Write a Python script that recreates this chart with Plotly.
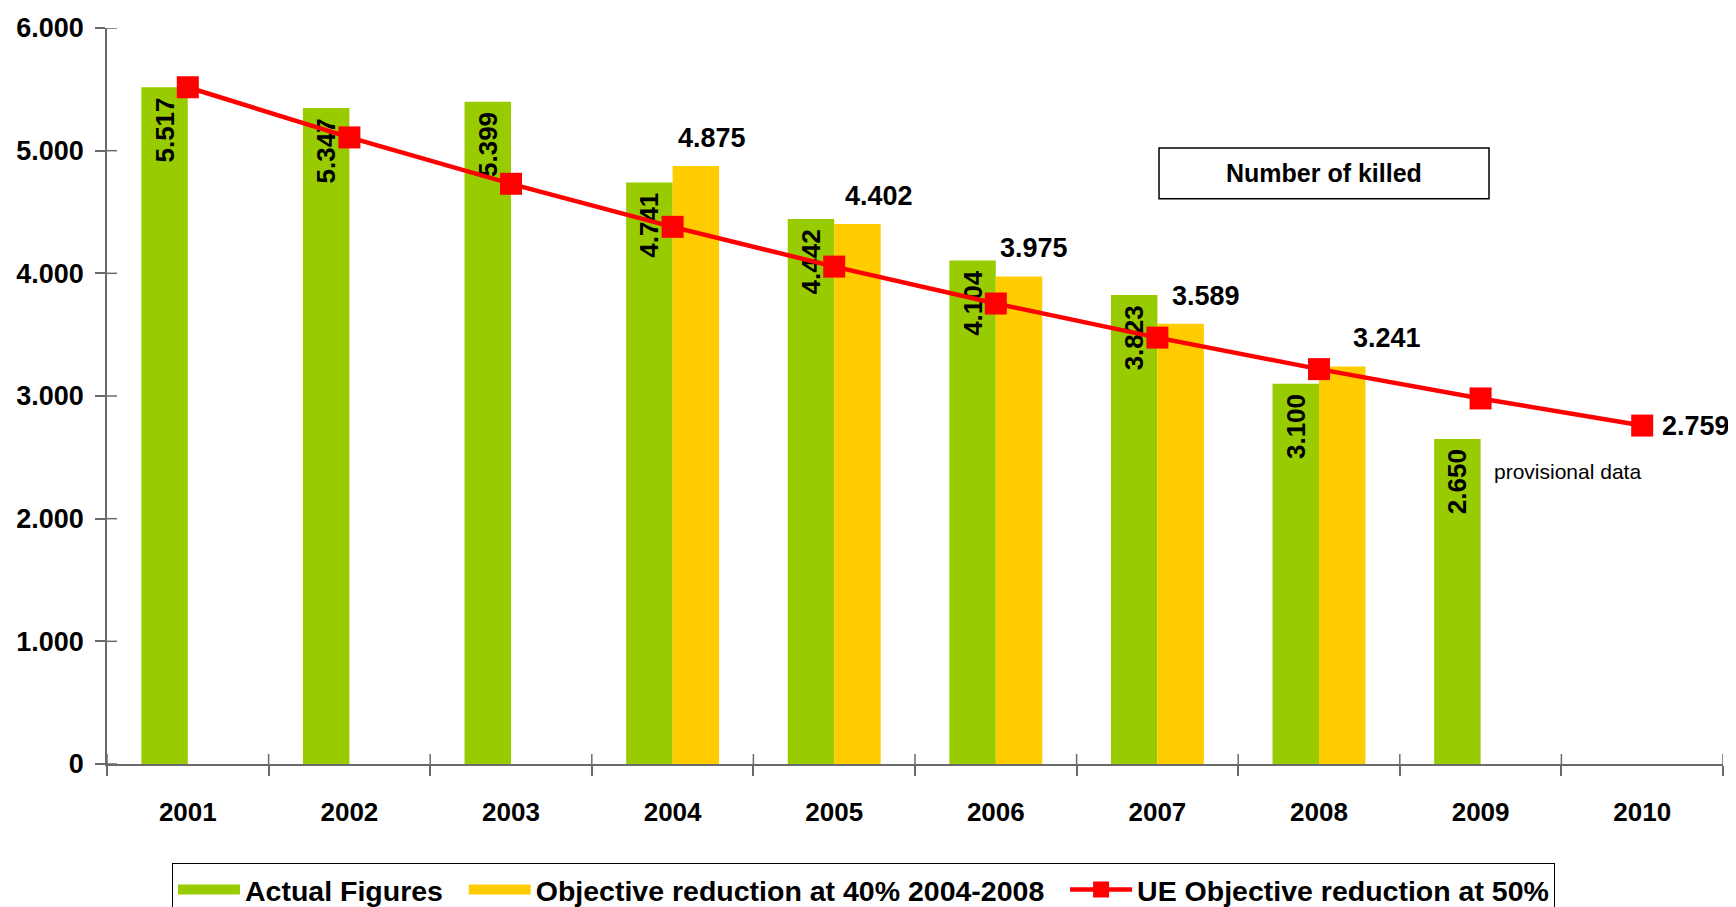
import plotly.graph_objects as go

years = ["2001", "2002", "2003", "2004", "2005", "2006", "2007", "2008", "2009", "2010"]
actual = [5517, 5347, 5399, 4741, 4442, 4104, 3823, 3100, 2650, None]
objective_40 = [None, None, None, 4875, 4402, 3975, 3589, 3241, None, None]
ue_objective_50 = [5517, 5108, 4730, 4379, 4055, 3754, 3476, 3219, 2980, 2759]
y_ticks = [0, 1000, 2000, 3000, 4000, 5000, 6000]

FONT = "Liberation Sans, Arial, sans-serif"
GREEN = "#99CC00"
YELLOW = "#FFCC00"
RED = "#FF0000"
AXIS = "#6a6a6a"
NB = "\u00a0"

def dotfmt(v):
    return f"{v:,}".replace(",", ".")

fig = go.Figure()

fig.add_trace(go.Bar(
    x=years, y=actual, name="Actual Figures", showlegend=False,
    marker=dict(color=GREEN, line=dict(width=0)),
    texttemplate="%{y:,.0f}" + NB, textposition="inside", insidetextanchor="end",
    textangle=-90, constraintext="none",
    textfont=dict(family=FONT, size=26, color="black", weight="bold"),
    cliponaxis=False,
))
fig.add_trace(go.Bar(
    x=years, y=objective_40, name="Objective reduction at 40% 2004-2008",
    showlegend=False,
    marker=dict(color=YELLOW, line=dict(width=0)),
))
fig.add_trace(go.Scatter(
    x=years, y=ue_objective_50, name="UE Objective reduction at 50%",
    mode="lines+markers", showlegend=False,
    line=dict(color=RED, width=4.5),
    marker=dict(symbol="square", size=22, color=RED),
    cliponaxis=False,
))

# legend entries (wide swatches like the original)
for nm, col in [("Actual Figures", GREEN), ("Objective reduction at 40% 2004-2008", YELLOW)]:
    fig.add_trace(go.Scatter(
        x=[None], y=[None], name=nm + NB + NB, mode="lines",
        line=dict(color=col, width=20), showlegend=True,
    ))
fig.add_trace(go.Scatter(
    x=[None], y=[None], name="UE Objective reduction at 50%",
    mode="lines+markers", line=dict(color=RED, width=4.5),
    marker=dict(symbol="square", size=16, color=RED), showlegend=True,
))

annotations = []
obj_xshift = [39, 45, 38, 49, 68]
k = 0
for i, v in enumerate(objective_40):
    if v is None:
        continue
    annotations.append(dict(
        x=i, y=v, xref="x", yref="y", text=dotfmt(v), showarrow=False,
        xshift=obj_xshift[k], yshift=28, yanchor="middle", xanchor="center",
        font=dict(family=FONT, size=27, color="black", weight="bold"),
    ))
    k += 1

annotations.append(dict(
    x=len(years) - 1, y=ue_objective_50[-1], xref="x", yref="y",
    text=dotfmt(ue_objective_50[-1]), showarrow=False,
    xanchor="left", yanchor="middle", xshift=18,
    font=dict(family=FONT, size=27, color="black", weight="bold"),
))
annotations.append(dict(
    x=8, y=actual[8], xref="x", yref="y",
    text="provisional data", showarrow=False,
    xanchor="left", yanchor="middle", xshift=11, yshift=-33,
    font=dict(family=FONT, size=21, color="black"),
))
annotations.append(dict(
    x=0.7531, y=0.8026, xref="paper", yref="paper",
    text="Number of killed", showarrow=False,
    xanchor="center", yanchor="middle",
    font=dict(family=FONT, size=25, color="black", weight="bold"),
))

shapes = [dict(
    type="rect", xref="paper", yref="paper",
    x0=0.651, x1=0.8552, y0=0.768, y1=0.837,
    line=dict(color="black", width=1.5), fillcolor="rgba(0,0,0,0)",
)]
# inward halves of the crossing tick marks
for i in range(len(years) + 1):
    shapes.append(dict(
        type="line", xref="x", yref="y", x0=i - 0.5, x1=i - 0.5,
        ysizemode="pixel", yanchor=0, y0=0, y1=10,
        line=dict(color=AXIS, width=1.5),
    ))
for t in y_ticks:
    shapes.append(dict(
        type="line", xref="x", yref="y", y0=t, y1=t,
        xsizemode="pixel", xanchor=-0.5, x0=0, x1=10,
        line=dict(color=AXIS, width=1.5),
    ))

fig.update_layout(
    width=1728, height=899,
    margin=dict(l=99, r=13, t=20, b=143, autoexpand=False),
    paper_bgcolor="white", plot_bgcolor="white",
    barmode="group", bargap=0.425, bargroupgap=0,
    separators=",.",
    font=dict(family=FONT, color="black"),
    showlegend=True,
    legend=dict(
        orientation="h", x=0.0402, y=-0.135, xanchor="left", yanchor="top",
        font=dict(family=FONT, size=28.5, color="black", weight="bold"),
        bordercolor="black", borderwidth=1, bgcolor="white",
        itemwidth=62, tracegroupgap=0,
    ),
    xaxis=dict(
        type="category", tickson="boundaries", ticks="outside", ticklen=10,
        tickcolor=AXIS, tickwidth=1.5, showline=True, linecolor=AXIS, linewidth=1.5,
        showgrid=False, zeroline=False, range=[-0.5, len(years) - 0.5],
        tickfont=dict(family=FONT, size=26, color="black", weight="bold"),
        ticklabelstandoff=24, tickangle=0, automargin=False,
    ),
    yaxis=dict(
        range=[0, 6000], tickvals=y_ticks, tickformat=",d",
        ticks="outside", ticklen=10, tickcolor=AXIS, tickwidth=1.5,
        showline=True, linecolor=AXIS, linewidth=1.5,
        showgrid=False, zeroline=False,
        tickfont=dict(family=FONT, size=27, color="black", weight="bold"),
        ticklabelstandoff=6, automargin=False,
    ),
    annotations=annotations,
    shapes=shapes,
)

fig.write_html("out.html")
